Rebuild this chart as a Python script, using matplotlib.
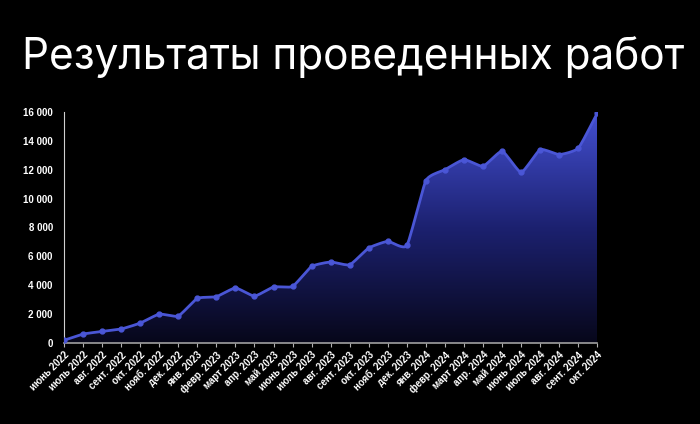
import numpy as np
import matplotlib
matplotlib.use("Agg")
import matplotlib.pyplot as plt
from matplotlib.colors import LinearSegmentedColormap
from matplotlib.ticker import FuncFormatter

months = ["июнь 2022", "июль 2022", "авг. 2022", "сент. 2022", "окт. 2022",
          "нояб. 2022", "дек. 2022", "янв. 2023", "февр. 2023", "март 2023",
          "апр. 2023", "май 2023", "июнь 2023", "июль 2023", "авг. 2023",
          "сент. 2023", "окт. 2023", "нояб. 2023", "дек. 2023", "янв. 2024",
          "февр. 2024", "март 2024", "апр. 2024", "май 2024", "июнь 2024",
          "июль 2024", "авг. 2024", "сент. 2024", "окт. 2024"]
values = [190, 620, 800, 970, 1380, 2000, 1870, 3090, 3210, 3810,
          3250, 3880, 3920, 5300, 5610, 5420, 6580, 7040, 6760, 11250,
          12000, 12700, 12240, 13280, 11820, 13390, 13050, 13500, 15930]

BG = "#000000"
LINE = "#4a56d6"

def smooth(x, y, n=12, k=0.5):
    # cardinal spline between the points, k scales the tangents
    px = np.concatenate([[2 * x[0] - x[1]], x, [2 * x[-1] - x[-2]]])
    py = np.concatenate([[2 * y[0] - y[1]], y, [2 * y[-1] - y[-2]]])
    xs, ys = [], []
    t = np.linspace(0, 1, n, endpoint=False)
    h00 = 2 * t**3 - 3 * t**2 + 1
    h10 = t**3 - 2 * t**2 + t
    h01 = -2 * t**3 + 3 * t**2
    h11 = t**3 - t**2
    for i in range(1, len(px) - 2):
        for p, out in ((px, xs), (py, ys)):
            m1 = k * (p[i + 1] - p[i - 1]) / 2
            m2 = k * (p[i + 2] - p[i]) / 2
            out.extend(h00 * p[i] + h10 * m1 + h01 * p[i + 1] + h11 * m2)
    xs.append(x[-1])
    ys.append(y[-1])
    return np.array(xs), np.array(ys)

x = np.arange(len(values), dtype=float)
y = np.array(values, dtype=float)
sx, sy = smooth(x, y)

fig = plt.figure(figsize=(7, 4.24), dpi=100, facecolor=BG)
ax = fig.add_axes([0.0914, 0.191, 0.762, 0.545], facecolor=BG)

# gradient fill under the curve
poly = ax.fill_between(sx, 0, sy, color="none", lw=0)
cmap = LinearSegmentedColormap.from_list("g", ["#07071a", "#1c2170", "#4450d2"])
grad = np.linspace(0, 1, 256).reshape(-1, 1)
img = ax.imshow(grad, cmap=cmap, origin="lower", aspect="auto",
                extent=[0, len(values) - 1, 0, 16000], zorder=1)
path = poly.get_paths()[0]
img.set_clip_path(path, transform=ax.transData)

ax.plot(sx, sy, color=LINE, lw=2, zorder=3)
ax.plot(x, y, "o", color=LINE, ms=3.5, zorder=4)

ax.set_xlim(0, len(values) - 1)
ax.set_ylim(0, 16000)
ax.set_yticks(np.arange(0, 16001, 2000))
ax.yaxis.set_major_formatter(FuncFormatter(lambda v, p: f"{int(v):,}".replace(",", " ")))
ax.set_xticks(x)
ax.set_xticklabels(months, rotation=45, ha="right", rotation_mode="anchor")

for s in ["top", "right"]:
    ax.spines[s].set_visible(False)
ax.spines["left"].set_color("#d0d0d0")
ax.spines["bottom"].set_color("#a0a0a0")
ax.spines["bottom"].set_linewidth(1.2)
ax.tick_params(axis="y", length=0, colors="white", labelsize=7, pad=8)
ax.tick_params(axis="x", length=3, colors="#b0b0b0", labelcolor="white", labelsize=7, pad=2)
for lab in ax.get_xticklabels() + ax.get_yticklabels():
    lab.set_family("Liberation Sans")
    lab.set_fontweight("bold")

fig.text(0.031, 0.865, "Результаты проведенных работ", color="white",
         fontsize=30.5, family="Inter", va="center", ha="left")

fig.savefig("out.png", dpi=100, facecolor=BG)
